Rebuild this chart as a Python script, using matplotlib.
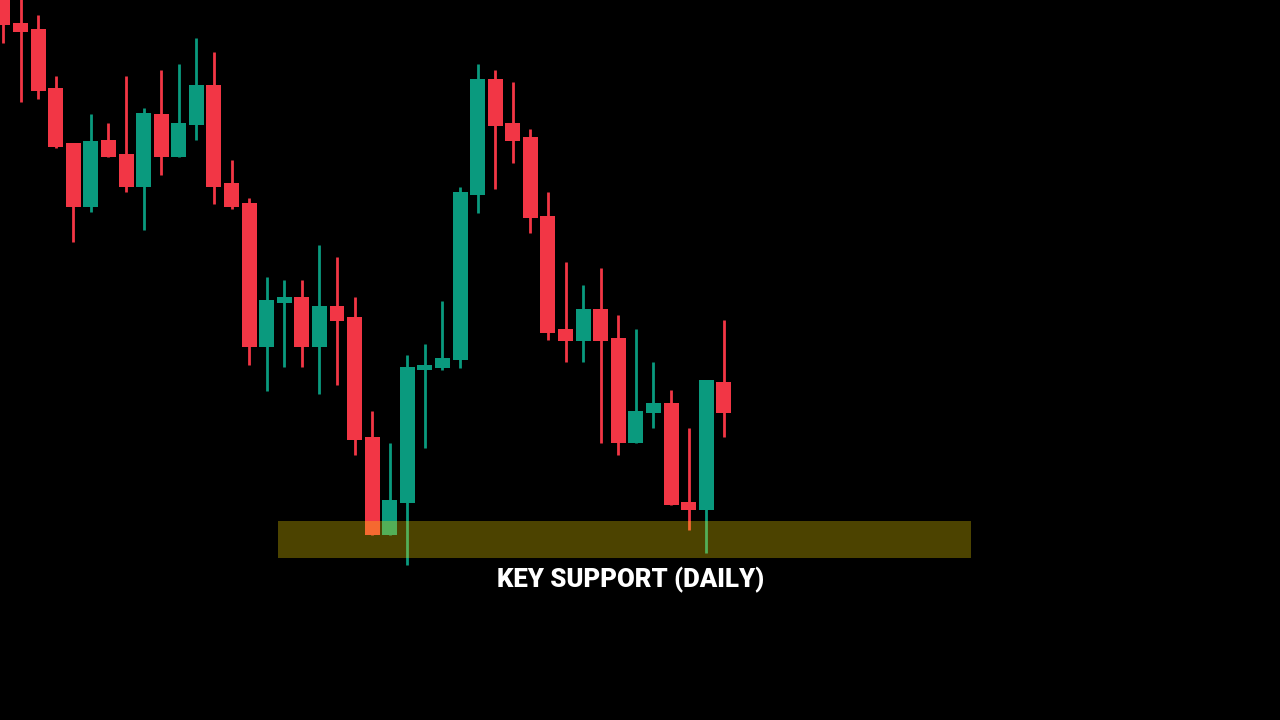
import numpy as np
import matplotlib.pyplot as plt

# candle data (price units are arbitrary)
opens = [735, 697, 691, 632, 577, 513, 580, 566, 533, 606, 563, 595, 635, 537,
         517, 373, 417, 423, 373, 414, 403, 283, 185, 217, 350, 352, 360, 525,
         641, 597, 583, 504, 391, 379, 411, 382, 277, 307, 317, 218, 210, 338]
highs = [745, 740, 705, 644, 577, 606, 597, 644, 612, 650, 656, 682, 668, 560,
         522, 443, 440, 440, 475, 463, 423, 309, 277, 365, 376, 419, 533, 656,
         650, 638, 591, 528, 458, 435, 452, 405, 391, 358, 330, 292, 340, 400]
lows = [677, 618, 621, 572, 478, 508, 563, 528, 490, 545, 563, 580, 516, 511,
        355, 329, 353, 353, 326, 335, 265, 185, 185, 155, 272, 350, 352, 507,
        531, 557, 487, 380, 358, 358, 277, 265, 277, 292, 215, 190, 167, 283]
closes = [695, 688, 629, 573, 513, 579, 563, 533, 607, 563, 597, 635, 533, 513,
          373, 420, 423, 373, 414, 399, 280, 185, 220, 353, 355, 362, 528, 641,
          594, 579, 502, 387, 379, 411, 379, 277, 309, 317, 215, 210, 340, 307]

# support zone
support_low = 162
support_high = 199
support_from = 15.64
support_to = 55.06
label = 'KEY SUPPORT (DAILY)'

up_color = '#0a9a7e'
down_color = '#f23645'

o = np.array(opens)
h = np.array(highs)
l = np.array(lows)
c = np.array(closes)
x = np.arange(len(o))
colors = np.where(c >= o, up_color, down_color)

fig = plt.figure(figsize=(12.8, 7.2), dpi=100, facecolor='black')
ax = fig.add_axes([0, 0, 1, 1])
ax.set_facecolor('black')

# wicks
ax.vlines(x, l, h, colors=colors, linewidth=2.0, zorder=2)
# bodies
body_bottom = np.minimum(o, c)
body_height = np.maximum(np.abs(c - o), 4)
ax.bar(x, body_height, bottom=body_bottom, width=0.85, color=colors, zorder=3)

# support band on top of candles
ax.fill_between([support_from, support_to], support_low, support_high,
                color='#ffe000', alpha=0.3, linewidth=0, zorder=4)

ax.set_xlim(-0.17, 72.64)
ax.set_ylim(0, 720)
ax.axis('off')

fig.text(631 / 1280, 1 - 580 / 720, label, color='white', ha='center', va='center',
         fontsize=18.5, fontweight='heavy', family=['Roboto', 'DejaVu Sans'])

fig.savefig('out.png', dpi=100, facecolor='black')
